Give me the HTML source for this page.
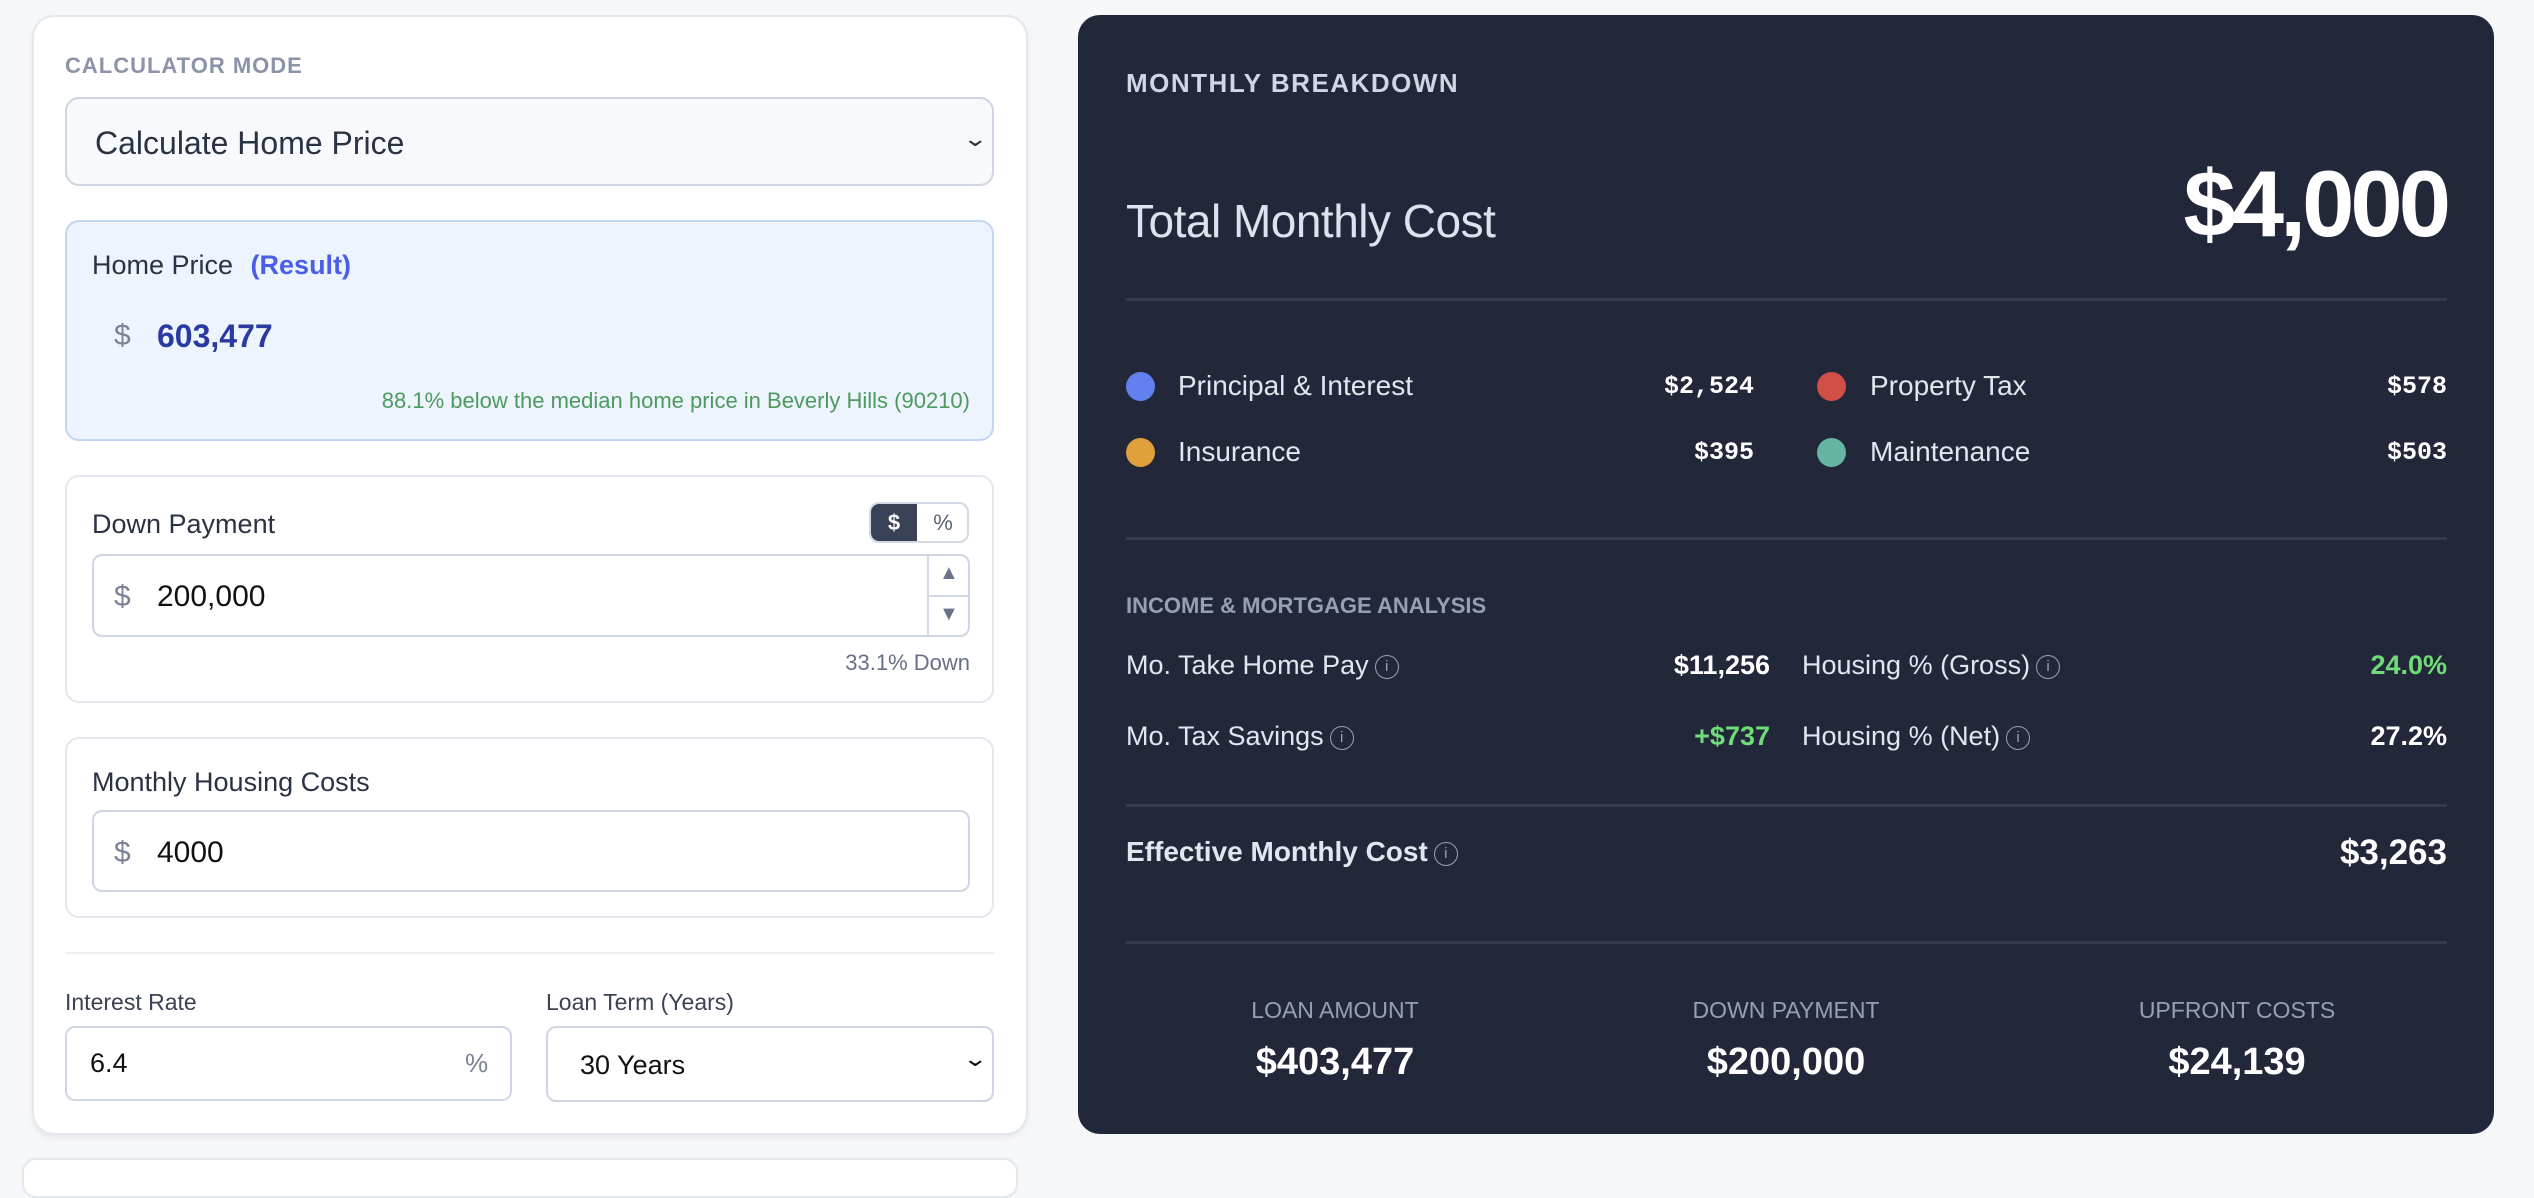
<!DOCTYPE html>
<html><head><meta charset="utf-8"><style>
*{box-sizing:border-box;margin:0;padding:0}
body{width:2534px;height:1164px;background:#f6f7f9;font-family:"Liberation Sans",sans-serif;position:relative;overflow:hidden}
.a{position:absolute;white-space:nowrap}
.box{position:absolute;border-radius:14px}
.inp{position:absolute;background:#fff;border:2px solid #cfd5e2;border-radius:10px}
.t{position:absolute;white-space:nowrap;line-height:1}
.r{text-align:right}
.info{display:inline-block;width:24px;height:24px;border:1.5px solid #9aa3b5;border-radius:50%;font-size:15px;line-height:21px;text-align:center;color:#9aa3b5;vertical-align:middle;margin-left:6px;font-weight:400}
.dot{position:absolute;width:29px;height:29px;border-radius:50%}
.hr{position:absolute;height:3px;background:#343b4d;left:1126px;width:1321px}
.m{font-family:'Liberation Mono',monospace;font-weight:700}
</style></head><body>
<div class="box" style="left:32px;top:15px;width:996px;height:1120px;background:#fff;border:2px solid #e3e7ee;border-radius:22px;box-shadow:0 3px 6px rgba(0,0,0,0.06)"></div>
<div class="box" style="left:22px;top:1158px;width:996px;height:40px;background:#fff;border:2px solid #e3e7ee"></div>
<div class="t" style="left:65px;top:55px;font-size:22px;font-weight:700;color:#8a93a8;letter-spacing:1px">CALCULATOR MODE</div>
<div class="inp" style="left:65px;top:97px;width:929px;height:89px;background:#f7f9fc;border-radius:14px"></div>
<div class="t" style="left:95px;top:127px;font-size:32px;font-weight:500;color:#2a3344">Calculate Home Price</div>
<div class="t" style="left:966px;top:128px;font-size:22px;color:#2a3344;transform:scaleX(1.4)">&#8964;</div>
<div class="box" style="left:65px;top:220px;width:929px;height:221px;background:#eef4fd;border:2px solid #c2d5f5"></div>
<div class="t" style="left:92px;top:252px;font-size:27px;color:#2a3344">Home Price <span style="color:#4a5ee8;font-weight:700;margin-left:10px">(Result)</span></div>
<div class="t" style="left:114px;top:321px;font-size:30px;color:#7a8296">$</div>
<div class="t" style="left:157px;top:320px;font-size:32px;font-weight:700;color:#2b3aa0">603,477</div>
<div class="t r" style="right:1564px;top:390px;font-size:22px;color:#4c9a5d">88.1% below the median home price in Beverly Hills (90210)</div>
<div class="box" style="left:65px;top:475px;width:929px;height:228px;background:#fff;border:2px solid #e3e7ee"></div>
<div class="t" style="left:92px;top:511px;font-size:27px;color:#2a3344">Down Payment</div>
<div class="box" style="left:869px;top:502px;width:100px;height:41px;border:2px solid #d3d9e4;border-radius:10px;background:#fff;overflow:hidden"><div style="position:absolute;left:0;top:0;width:46px;height:100%;background:#394257;color:#fff;font-weight:700;font-size:22px;text-align:center;line-height:37px">$</div><div style="position:absolute;left:46px;top:0;width:52px;height:100%;color:#5a6378;font-size:22px;text-align:center;line-height:37px">%</div></div>
<div class="inp" style="left:92px;top:554px;width:878px;height:83px"></div>
<div class="a" style="left:927px;top:556px;width:2px;height:79px;background:#d3d9e4"></div>
<div class="a" style="left:928px;top:595px;width:40px;height:2px;background:#d3d9e4"></div>
<div class="t" style="left:939px;top:563px;font-size:20px;color:#6b7388">&#9650;</div>
<div class="t" style="left:939px;top:604px;font-size:20px;color:#6b7388">&#9660;</div>
<div class="t" style="left:114px;top:582px;font-size:30px;color:#7a8296">$</div>
<div class="t" style="left:157px;top:582px;font-size:30px;color:#111">200,000</div>
<div class="t r" style="right:1564px;top:652px;font-size:22px;color:#667085">33.1% Down</div>
<div class="box" style="left:65px;top:737px;width:929px;height:181px;background:#fff;border:2px solid #e3e7ee"></div>
<div class="t" style="left:92px;top:769px;font-size:27px;color:#2a3344">Monthly Housing Costs</div>
<div class="inp" style="left:92px;top:810px;width:878px;height:82px"></div>
<div class="t" style="left:114px;top:838px;font-size:30px;color:#7a8296">$</div>
<div class="t" style="left:157px;top:838px;font-size:30px;color:#111">4000</div>
<div class="a" style="left:65px;top:952px;width:929px;height:2px;background:#eceff3"></div>
<div class="t" style="left:65px;top:991px;font-size:23px;color:#3a4254">Interest Rate</div>
<div class="t" style="left:546px;top:991px;font-size:23px;color:#3a4254">Loan Term (Years)</div>
<div class="inp" style="left:65px;top:1026px;width:447px;height:75px"></div>
<div class="t" style="left:90px;top:1050px;font-size:27px;color:#111">6.4</div>
<div class="t" style="left:465px;top:1050px;font-size:26px;color:#7a8296">%</div>
<div class="inp" style="left:546px;top:1026px;width:448px;height:76px"></div>
<div class="t" style="left:580px;top:1052px;font-size:27px;color:#111">30 Years</div>
<div class="t" style="left:966px;top:1048px;font-size:22px;color:#111;transform:scaleX(1.4)">&#8964;</div>
<div class="box" style="left:1078px;top:15px;width:1416px;height:1119px;background:#222839;border-radius:22px"></div>
<div class="t" style="left:1126px;top:70px;font-size:26px;font-weight:700;color:#d0d6e2;letter-spacing:1.5px">MONTHLY BREAKDOWN</div>
<div class="t" style="left:1126px;top:198px;font-size:46px;font-weight:300;color:#dde3ec;letter-spacing:-0.5px">Total Monthly Cost</div>
<div class="t r" style="right:87px;top:157px;font-size:94px;font-weight:700;color:#fff;letter-spacing:-4px">$4,000</div>
<div class="hr" style="top:298px"></div>
<div class="dot" style="left:1126px;top:372px;background:#6280ef"></div>
<div class="t" style="left:1178px;top:372px;font-size:28px;color:#e2e7ef">Principal &amp; Interest</div>
<div class="t r m" style="right:780px;top:374px;font-size:25px;color:#fff">$2,524</div>
<div class="dot" style="left:1817px;top:372px;background:#d05048"></div>
<div class="t" style="left:1870px;top:372px;font-size:28px;color:#e2e7ef">Property Tax</div>
<div class="t r m" style="right:87px;top:374px;font-size:25px;color:#fff">$578</div>
<div class="dot" style="left:1126px;top:438px;background:#e0a03c"></div>
<div class="t" style="left:1178px;top:438px;font-size:28px;color:#e2e7ef">Insurance</div>
<div class="t r m" style="right:780px;top:440px;font-size:25px;color:#fff">$395</div>
<div class="dot" style="left:1817px;top:438px;background:#65b5a3"></div>
<div class="t" style="left:1870px;top:438px;font-size:28px;color:#e2e7ef">Maintenance</div>
<div class="t r m" style="right:87px;top:440px;font-size:25px;color:#fff">$503</div>
<div class="hr" style="top:537px"></div>
<div class="t" style="left:1126px;top:595px;font-size:22px;font-weight:700;color:#96a0b5">INCOME &amp; MORTGAGE ANALYSIS</div>
<div class="t" style="left:1126px;top:652px;font-size:27px;color:#e2e7ef">Mo. Take Home Pay<span class="info">i</span></div>
<div class="t r" style="right:764px;top:652px;font-size:27px;font-weight:700;color:#fff">$11,256</div>
<div class="t" style="left:1802px;top:652px;font-size:27px;color:#e2e7ef">Housing % (Gross)<span class="info">i</span></div>
<div class="t r" style="right:87px;top:652px;font-size:27px;font-weight:700;color:#6fdc79">24.0%</div>
<div class="t" style="left:1126px;top:723px;font-size:27px;color:#e2e7ef">Mo. Tax Savings<span class="info">i</span></div>
<div class="t r" style="right:764px;top:723px;font-size:27px;font-weight:700;color:#6fdc79">+$737</div>
<div class="t" style="left:1802px;top:723px;font-size:27px;color:#e2e7ef">Housing % (Net)<span class="info">i</span></div>
<div class="t r" style="right:87px;top:723px;font-size:27px;font-weight:700;color:#fff">27.2%</div>
<div class="hr" style="top:804px"></div>
<div class="t" style="left:1126px;top:838px;font-size:28px;font-weight:700;color:#e2e7ef">Effective Monthly Cost<span class="info">i</span></div>
<div class="t r" style="right:87px;top:835px;font-size:35px;font-weight:700;color:#fff">$3,263</div>
<div class="hr" style="top:941px"></div>
<div class="t" style="left:1135px;width:400px;text-align:center;top:999px;font-size:23px;color:#96a0b5">LOAN AMOUNT</div>
<div class="t" style="left:1135px;width:400px;text-align:center;top:1043px;font-size:38px;font-weight:700;color:#fff">$403,477</div>
<div class="t" style="left:1586px;width:400px;text-align:center;top:999px;font-size:23px;color:#96a0b5">DOWN PAYMENT</div>
<div class="t" style="left:1586px;width:400px;text-align:center;top:1043px;font-size:38px;font-weight:700;color:#fff">$200,000</div>
<div class="t" style="left:2037px;width:400px;text-align:center;top:999px;font-size:23px;color:#96a0b5">UPFRONT COSTS</div>
<div class="t" style="left:2037px;width:400px;text-align:center;top:1043px;font-size:38px;font-weight:700;color:#fff">$24,139</div>
</body></html>
